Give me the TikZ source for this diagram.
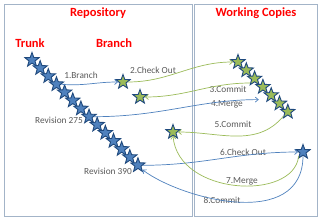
\documentclass[tikz,border=0pt]{standalone}
\usepackage{fontspec}
\setmainfont{Carlito}
\usetikzlibrary{arrows.meta,shapes.geometric}
\definecolor{SVNBlau}{HTML}{4F81BD}
\definecolor{SVNDunkelblau}{HTML}{1F497D}
\definecolor{SVNGruen}{HTML}{9BBB59}
\definecolor{SVNRahmen}{HTML}{A3B4C8}
\definecolor{SVNText}{HTML}{595959}

\begin{document}
\begin{tikzpicture}[
    x=1pt, y=-1pt,
    >={Straight Barb[length=3pt,width=5pt]},
    revstar/.style={star, star points=5, star point ratio=2.4, minimum size=15pt, inner sep=0pt, draw=SVNDunkelblau, line width=0.9pt, fill=SVNBlau},
    wcstar/.style={revstar, fill=SVNGruen},
    area/.style={draw=SVNRahmen, line width=0.8pt},
    title/.style={font=\fontsize{12.5}{14}\selectfont\bfseries, text=red},
    cmd/.style={font=\fontsize{9.3}{11}\selectfont, text=SVNText, inner sep=1pt},
    blueflow/.style={->, draw=SVNBlau, line width=0.7pt},
    greenflow/.style={->, draw=SVNGruen, line width=0.7pt},
]
\useasboundingbox (0,0) rectangle (320,221);

% Rahmen
\draw[area] (4,4) rectangle (192,216);
\draw[area] (194,4) rectangle (317,216);

% Titel
\node[title] (repo) at (98,13) {Repository};
\node[title] (wcopies) at (256,13) {Working Copies};
\node[title] (trunk) at (30,43) {Trunk};
\node[title] (branch) at (114,43) {Branch};

% Trunk
\foreach \i in {0,...,13}
    \node[revstar] (t\i) at ({32+8.15*\i},{60+8.1*\i}) {};
\node[cmd, anchor=east] (rev275) at (84,120) {Revision 275};
\node[cmd, anchor=east] (rev390) at (133,171) {Revision 390};

% Branch
\node[wcstar] (b1) at (123,82) {};
\node[wcstar] (b2) at (140,97) {};
\node[wcstar] (b3) at (173,132) {};

% Working Copies
\foreach \i in {1,...,7}
    \node[wcstar] (w\i) at ({238+8.3*(\i-1)},{62+8.3*(\i-1)}) {};
\node[revstar] (wc) at (303,152) {};

% Schritte
\node[cmd] (s1) at (81,75) {1.Branch};
\node[cmd] (s2) at (153,70) {2.Check Out};
\node[cmd] (s3) at (228,89) {3.Commit};
\node[cmd] (s4) at (227,104) {4.Merge};
\node[cmd] (s5) at (233,124) {5.Commit};
\node[cmd] (s6) at (243,152) {6.Check Out};
\node[cmd] (s7) at (242,181) {7.Merge};
\node[cmd] (s8) at (222,200) {8.Commit};

% Verbindungen
\draw[blueflow] (t3.east) to[out=-5,in=180] (b1.west);
\draw[greenflow] (b1.east) to[out=0,in=180] (w1.west);
\draw[greenflow] (w3.south west) to[out=180,in=0] (b2.east);
\draw[blueflow, shorten >=8pt] (t7.east) to[out=0,in=180] (w5.south west);
\draw[greenflow] (w7.south west) to[out=-130,in=0] (b3.east);
\draw[blueflow] (t13.east) to[out=0,in=180] (wc.west);
\draw[greenflow] (wc.south west) .. controls +(-5,45) and +(5,60) .. (b3.south);
\draw[blueflow] (wc.south) .. controls +(0,75) and +(40,30) .. (t13.south east);

\end{tikzpicture}
\end{document}
